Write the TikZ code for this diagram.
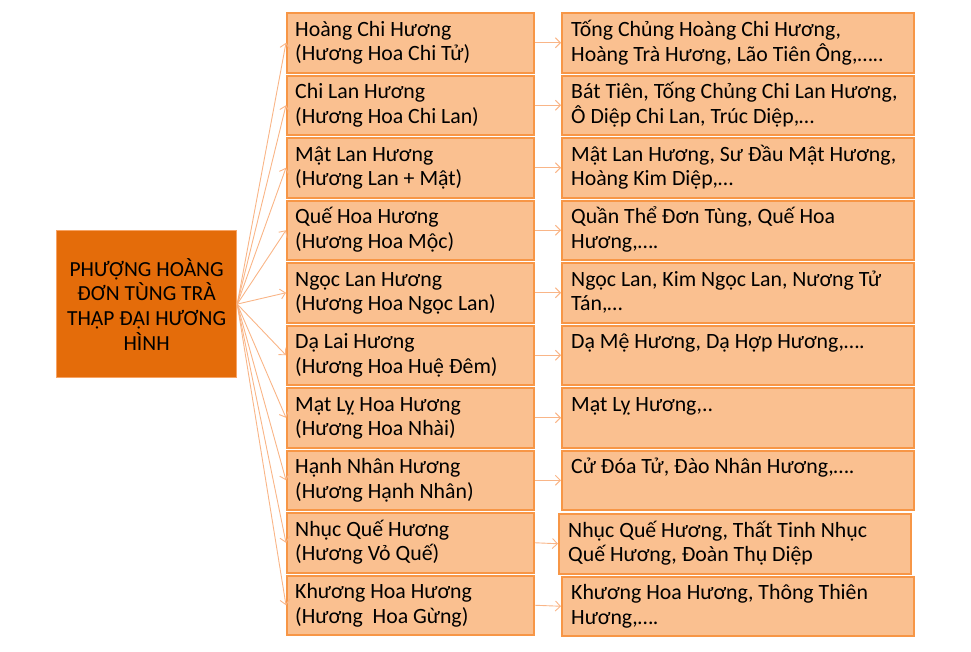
\documentclass[tikz,border=0pt]{standalone}
\usepackage{fontspec}
\setmainfont{Carlito}
\usetikzlibrary{arrows.meta}
\definecolor{boxfill}{HTML}{FAC090}
\definecolor{boxline}{HTML}{F79646}
\definecolor{hubfill}{HTML}{E46C0A}
\definecolor{hubline}{HTML}{F7A364}
\definecolor{arrowc}{HTML}{F9B587}
\newcommand{\twolines}[1]{\begin{tabular}[t]{@{}l@{}}#1\end{tabular}}
\begin{document}
\begin{tikzpicture}[x=1pt,y=-1pt,
  cell/.style={draw=boxline, fill=boxfill, line width=2pt, rectangle, inner sep=0pt, anchor=north west, minimum height=59.5pt},
  midbox/.style={cell, minimum width=247pt},
  resbox/.style={cell, minimum width=352pt},
  txt/.style={anchor=base west, inner sep=0pt, font=\fontsize{21.8}{24.7}\selectfont},
  link/.style={draw=arrowc, line width=0.9pt, -{Straight Barb[length=5pt,width=10pt]}}]
\useasboundingbox (0,0) rectangle (971,651);

% hub
\node[draw=hubline, fill=hubfill, line width=1.2pt, anchor=north west, inner sep=0pt,
      minimum width=180pt, minimum height=147pt] (hub) at (56,230) {};
\node[align=center, font=\fontsize{21.5}{24.7}\selectfont, inner sep=0pt] (hubtxt) at (hub.center)
  {PHƯỢNG HOÀNG\\ĐƠN TÙNG TRÀ\\THẬP ĐẠI HƯƠNG\\HÌNH};

% middle column
\node[midbox] (m1) at (286,12) {};
\node[midbox] (m2) at (286,74.5) {};
\node[midbox] (m3) at (286,137) {};
\node[midbox] (m4) at (286,199.5) {};
\node[midbox] (m5) at (286,262) {};
\node[midbox] (m6) at (286,324.5) {};
\node[midbox] (m7) at (286,387) {};
\node[midbox] (m8) at (286,449.5) {};
\node[midbox] (m9) at (286,512) {};
\node[midbox] (m10) at (286,574.5) {};

\node[txt] (mt1) at (295,36) {\twolines{Hoàng Chi Hương\\(Hương Hoa Chi Tử)}};
\node[txt] (mt2) at (295,98.5) {\twolines{Chi Lan Hương\\(Hương Hoa Chi Lan)}};
\node[txt] (mt3) at (295,161) {\twolines{Mật Lan Hương\\(Hương Lan + Mật)}};
\node[txt] (mt4) at (295,223.5) {\twolines{Quế Hoa Hương\\(Hương Hoa Mộc)}};
\node[txt] (mt5) at (295,286) {\twolines{Ngọc Lan Hương\\(Hương Hoa Ngọc Lan)}};
\node[txt] (mt6) at (295,348.5) {\twolines{Dạ Lai Hương\\(Hương Hoa Huệ Đêm)}};
\node[txt] (mt7) at (295,411) {\twolines{Mạt Lỵ Hoa Hương\\(Hương Hoa Nhài)}};
\node[txt] (mt8) at (295,473.5) {\twolines{Hạnh Nhân Hương\\(Hương Hạnh Nhân)}};
\node[txt] (mt9) at (295,536) {\twolines{Nhục Quế Hương\\(Hương Vỏ Quế)}};
\node[txt] (mt10) at (295,598.5) {\twolines{Khương Hoa Hương\\(Hương\ \ Hoa Gừng)}};

% right column
\node[resbox] (r1) at (561,12) {};
\node[resbox] (r2) at (561,74.5) {};
\node[resbox] (r3) at (561,137) {};
\node[resbox] (r4) at (561,199.5) {};
\node[resbox] (r5) at (561,262) {};
\node[resbox] (r6) at (561,324.5) {};
\node[resbox] (r7) at (561,387) {};
\node[resbox] (r8) at (561,449.5) {};
\node[resbox] (r9) at (558,513) {};
\node[resbox] (r10) at (561,575.5) {};

\node[txt] (rt1) at (571,36) {\twolines{Tống Chủng Hoàng Chi Hương,\\Hoàng Trà Hương, Lão Tiên Ông,…..}};
\node[txt] (rt2) at (571,98.5) {\twolines{Bát Tiên, Tống Chủng Chi Lan Hương,\\Ô Diệp Chi Lan, Trúc Diệp,…}};
\node[txt] (rt3) at (571,161) {\twolines{Mật Lan Hương, Sư Đầu Mật Hương,\\Hoàng Kim Diệp,…}};
\node[txt] (rt4) at (571,223.5) {\twolines{Quần Thể Đơn Tùng, Quế Hoa\\Hương,….}};
\node[txt] (rt5) at (571,286) {\twolines{Ngọc Lan, Kim Ngọc Lan, Nương Tử\\Tán,…}};
\node[txt] (rt6) at (571,348.5) {Dạ Mệ Hương, Dạ Hợp Hương,….};
\node[txt] (rt7) at (571,411) {Mạt Lỵ Hương,..};
\node[txt] (rt8) at (571,473.5) {Cử Đóa Tử, Đào Nhân Hương,….};
\node[txt] (rt9) at (568,537) {\twolines{Nhục Quế Hương, Thất Tinh Nhục\\Quế Hương, Đoàn Thụ Diệp}};
\node[txt] (rt10) at (571,599.5) {\twolines{Khương Hoa Hương, Thông Thiên\\Hương,….}};

% connectors
\foreach \i in {1,...,10} {
  \draw[link] (hub.east) -- (m\i.west);
  \draw[link] (m\i.east) -- (r\i.west);
}
\end{tikzpicture}
\end{document}
